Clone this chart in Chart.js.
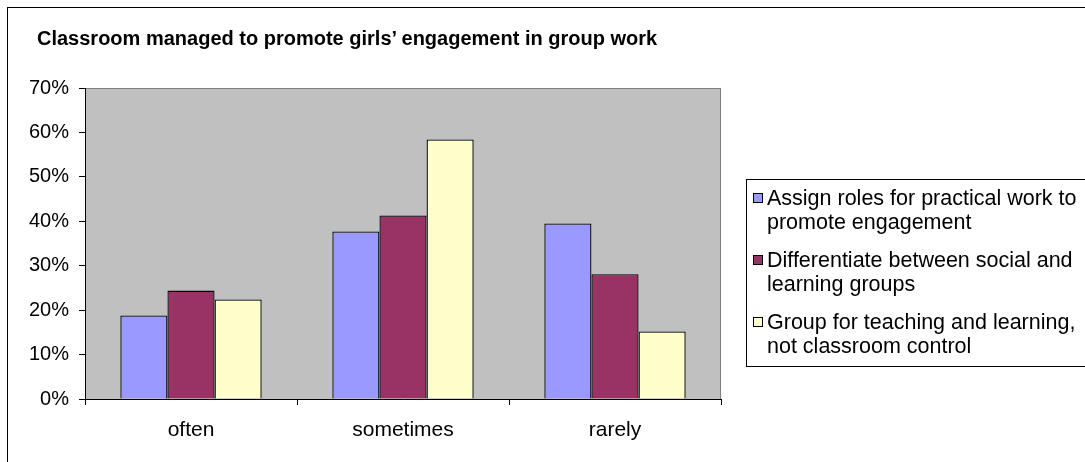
<!DOCTYPE html>
<html>
<head>
<meta charset="utf-8">
<script src="https://cdn.jsdelivr.net/npm/chart.js@4.4.1/dist/chart.umd.min.js"></script>
<style>
  html, body { margin: 0; padding: 0; background: #fff; overflow: hidden; width: 1085px; height: 462px; }
  #frame { position: absolute; left: 7px; top: 7px; width: 1200px; height: 600px; border: 1px solid #000; box-sizing: border-box; }
  #wrap { position: absolute; left: 0; top: 0; width: 1085px; height: 462px; }
  #title { position: absolute; left: 37px; top: 27px; font: bold 20px "Liberation Sans", Arial, sans-serif; color: #000; white-space: nowrap; }
  #legend { position: absolute; left: 746px; top: 179px; width: 400px; height: 188px; border: 1px solid #000; box-sizing: border-box; background: #fff; font: 21.5px "Liberation Sans", Arial, sans-serif; color: #000; padding: 6px 0 0 6px; }
  .item { position: relative; padding-left: 14px; line-height: 24px; margin-bottom: 14px; width: 340px; white-space: nowrap; }
  .mk { position: absolute; left: 0; top: 7px; width: 8px; height: 8px; border: 1px solid #000; }
</style>
</head>
<body>
<div id="wrap">
  <div id="frame"></div>
  <canvas id="c" width="1085" height="462"></canvas>
  <div id="title"></div>
  <div id="legend"></div>
</div>
<script>
const titleText = "Classroom managed to promote girls\u2019 engagement in group work";
const categories = ["often", "sometimes", "rarely"];
const seriesNames = [
  ["Assign roles for practical work to", "promote engagement"],
  ["Differentiate between social and", "learning groups"],
  ["Group for teaching and learning,", "not classroom control"]
];
const assignRoles = [18.8, 37.7, 39.5];
const differentiate = [24.4, 41.3, 28.1];
const groupTeaching = [22.4, 58.4, 15.2];
const seriesColors = ["#9999FF", "#993366", "#FFFFCC"];
const yTicks = [0, 10, 20, 30, 40, 50, 60, 70];

document.getElementById('title').textContent = titleText;
const leg = document.getElementById('legend');
seriesNames.forEach((lines, i) => {
  const d = document.createElement('div');
  d.className = 'item';
  const m = document.createElement('span');
  m.className = 'mk';
  m.style.background = seriesColors[i];
  d.appendChild(m);
  lines.forEach((t, j) => {
    if (j) d.appendChild(document.createElement('br'));
    d.appendChild(document.createTextNode(t));
  });
  leg.appendChild(d);
});

const plotBg = {
  id: 'plotBg',
  beforeDraw(chart) {
    const a = chart.chartArea, ctx = chart.ctx;
    ctx.save();
    ctx.fillStyle = '#C0C0C0';
    ctx.fillRect(a.left, a.top, a.right - a.left, a.bottom - a.top);
    ctx.strokeStyle = '#808080';
    ctx.lineWidth = 1;
    ctx.strokeRect(a.left + 0.5, a.top + 0.5, a.right - a.left - 1, a.bottom - a.top);
    ctx.restore();
  }
};

const fontX = { family: '"Liberation Sans", Arial, sans-serif', size: 21 };
const fontY = { family: '"Liberation Sans", Arial, sans-serif', size: 20 };
const vals = [assignRoles, differentiate, groupTeaching];

new Chart(document.getElementById('c'), {
  type: 'bar',
  data: {
    labels: categories,
    datasets: vals.map((v, i) => ({
      label: seriesNames[i].join(' '),
      data: v,
      backgroundColor: seriesColors[i],
      borderColor: '#000',
      borderWidth: 1.3,
      categoryPercentage: 0.6667,
      barPercentage: 1.0
    }))
  },
  options: {
    responsive: false,
    animation: false,
    devicePixelRatio: 1,
    layout: { padding: { left: 0, top: 88, right: 364, bottom: 0 } },
    plugins: { legend: { display: false }, title: { display: false }, tooltip: { enabled: false } },
    scales: {
      x: {
        afterFit(s) { s.height = 63; },
        grid: { offset: true, drawOnChartArea: false, tickLength: 6, color: '#000' },
        border: { color: '#000' },
        ticks: { font: fontX, color: '#000', padding: 13 }
      },
      y: {
        min: 0, max: 70,
        afterFit(s) { s.width = 85; },
        afterBuildTicks(s) { s.ticks = yTicks.map(v => ({ value: v })); },
        grid: { drawOnChartArea: false, tickLength: 6, color: '#000' },
        border: { color: '#000' },
        ticks: { font: fontY, color: '#000', padding: 10, callback: v => v + '%' }
      }
    }
  },
  plugins: [plotBg]
});
</script>
</body>
</html>
